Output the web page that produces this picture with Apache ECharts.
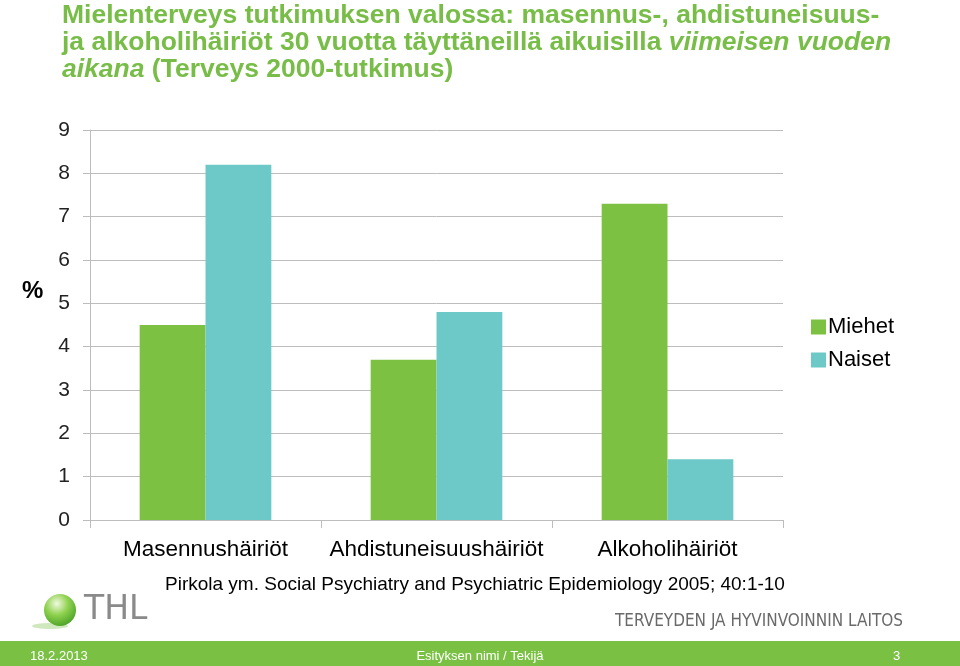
<!DOCTYPE html>
<html><head><meta charset="utf-8">
<script src="https://cdn.jsdelivr.net/npm/echarts@6/dist/echarts.min.js"></script>
<style>html,body{margin:0;padding:0;background:#fff}#c{width:960px;height:666px}</style>
</head><body><div id="c"></div>
<script>
const categories = ['Masennushäiriöt', 'Ahdistuneisuushäiriöt', 'Alkoholihäiriöt'];
const miehet = [4.5, 3.7, 7.3];
const naiset = [8.2, 4.8, 1.4];
const seriesNames = ['Miehet', 'Naiset'];
const FF = '"Liberation Sans", Arial, sans-serif';
const chart = echarts.init(document.getElementById('c'));
chart.setOption({
  animation: false,
  backgroundColor: '#fff',
  textStyle: { fontFamily: FF },
  title: {
    left: 62, top: 2, padding: 0,
    text: '{b|Mielenterveys tutkimuksen valossa: masennus-, ahdistuneisuus-}\n{b|ja alkoholihäiriöt 30 vuotta täyttäneillä aikuisilla }{i|viimeisen vuoden}\n{i|aikana}{b| (Terveys 2000-tutkimus)}',
    textStyle: {
      rich: {
        b: { fontFamily: FF, fontSize: 26.5, fontWeight: 'bold', color: '#77bd47', lineHeight: 27 },
        i: { fontFamily: FF, fontSize: 26.5, fontWeight: 'bold', fontStyle: 'italic', color: '#77bd47', lineHeight: 27 }
      }
    }
  },
  legend: {
    orient: 'vertical', left: 806, top: 311, itemWidth: 15, itemHeight: 15, itemGap: 11,
    icon: 'rect',
    textStyle: { fontFamily: FF, fontSize: 22, color: '#000', padding: [0, 0, 0, -3] },
    data: seriesNames
  },
  grid: { left: 90, right: 177, top: 130, bottom: 146 },
  xAxis: {
    type: 'category', data: categories,
    axisLine: { lineStyle: { color: '#bdbdbd', width: 1 } },
    axisTick: { show: true, length: 8, lineStyle: { color: '#bdbdbd' } },
    axisLabel: { fontFamily: FF, fontSize: 22.5, color: '#000', margin: 18, interval: 0 }
  },
  yAxis: {
    type: 'value', min: 0, max: 9, interval: 1,
    axisLine: { show: true, lineStyle: { color: '#bdbdbd' } },
    axisTick: { show: true, length: 7, lineStyle: { color: '#bdbdbd' } },
    splitLine: { lineStyle: { color: '#bdbdbd' } },
    axisLabel: { fontFamily: FF, fontSize: 21, color: '#222', margin: 20 }
  },
  series: [
    { name: seriesNames[0], type: 'bar', data: miehet, itemStyle: { color: '#7dc143' }, barGap: '0%', barCategoryGap: '43%' },
    { name: seriesNames[1], type: 'bar', data: naiset, itemStyle: { color: '#6cc9c7' }, barGap: '0%', barCategoryGap: '43%' }
  ],
  graphic: [
    { type: 'text', left: 22, top: 279, style: { text: '%', fontFamily: FF, fontSize: 24, fontWeight: 'bold', fill: '#000' } },
    { type: 'text', left: 165, top: 575, style: { text: 'Pirkola ym. Social Psychiatry and Psychiatric Epidemiology 2005; 40:1-10', fontFamily: FF, fontSize: 19, fill: '#000' } },
    { type: 'ellipse', shape: { cx: 50, cy: 626, rx: 18, ry: 3 }, style: { fill: 'rgba(120,190,70,0.35)' } },
    { type: 'circle', shape: { cx: 60, cy: 610, r: 16 }, style: { fill: new echarts.graphic.RadialGradient(0.4, 0.3, 0.8, [{ offset: 0, color: '#f0fadf' }, { offset: 0.45, color: '#8fd14f' }, { offset: 1, color: '#3f9a1e' }]) } },
    { type: 'text', left: 84, top: 594, style: { text: 'THL', fontFamily: '"DejaVu Sans", sans-serif', fontSize: 33, fill: '#8a8a8a' } },
    { type: 'text', left: 615, top: 613, style: { text: 'TERVEYDEN JA HYVINVOINNIN LAITOS', fontFamily: '"DejaVu Sans Condensed", "DejaVu Sans", sans-serif', fontSize: 17, fill: '#6a6a6a' } },
    { type: 'rect', shape: { x: 0, y: 641, width: 960, height: 25 }, style: { fill: '#7ac143' } },
    { type: 'text', left: 30, top: 650, style: { text: '18.2.2013', fontFamily: FF, fontSize: 13, fill: '#fff' } },
    { type: 'text', left: 'center', top: 650, style: { text: 'Esityksen nimi / Tekijä', fontFamily: FF, fontSize: 13, fill: '#fff' } },
    { type: 'text', left: 893, top: 650, style: { text: '3', fontFamily: FF, fontSize: 13, fill: '#fff' } }
  ]
});
</script></body></html>
